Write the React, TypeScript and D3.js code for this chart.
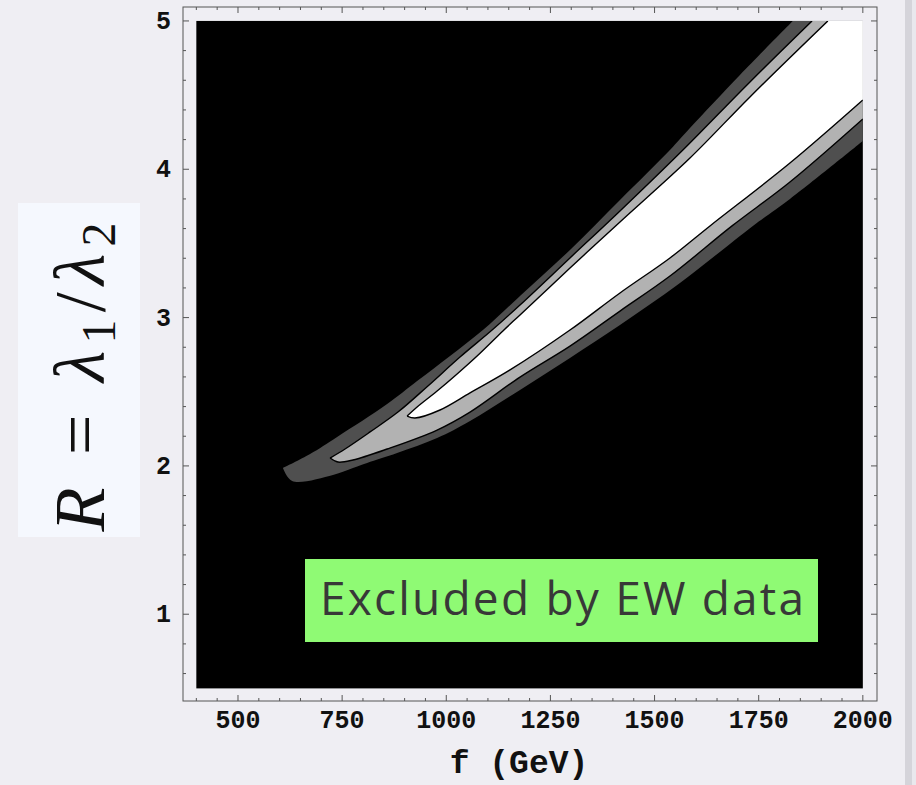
import * as d3 from "d3";

const W = 916;
const H = 785;

const fTicks = [500, 750, 1000, 1250, 1500, 1750, 2000];
const rTicks = [1, 2, 3, 4, 5];

// contour boundaries, as [f (GeV), R]
// upper edges run from the tip to the top of the plot, lower edges from the tip to the right side
const outerUpper: [number, number][] = [
  [608, 1.986], [673, 2.08], [738, 2.195], [858, 2.417], [930, 2.572], [1009, 2.741],
  [1088, 2.916], [1177, 3.146], [1297, 3.456], [1417, 3.793], [1537, 4.13],
  [1585, 4.278], [1705, 4.636], [1832, 5.0],
];
const outerLower: [number, number][] = [
  [608, 1.986], [630, 1.898], [728, 1.939], [776, 1.986], [810, 2.02], [882, 2.087],
  [978, 2.188], [1057, 2.303], [1177, 2.512], [1297, 2.728], [1417, 2.95],
  [1561, 3.233], [1736, 3.618], [1825, 3.8], [2000, 4.191],
];
const midUpper: [number, number][] = [
  [721, 2.053], [757, 2.114], [817, 2.229], [884, 2.363], [956, 2.539], [1033, 2.734],
  [1110, 2.916], [1177, 3.085], [1297, 3.402], [1417, 3.719], [1568, 4.13],
  [1729, 4.589], [1878, 5.0],
];
const midLower: [number, number][] = [
  [721, 2.053], [740, 2.026], [776, 2.04], [858, 2.114], [978, 2.242], [1057, 2.363],
  [1177, 2.599], [1297, 2.808], [1417, 3.044], [1537, 3.28], [1686, 3.618],
  [1825, 3.914], [2000, 4.339],
];
const innerUpper: [number, number][] = [
  [906, 2.336], [930, 2.397], [978, 2.505], [1026, 2.62], [1074, 2.741], [1136, 2.91],
  [1177, 3.018], [1297, 3.334], [1417, 3.645], [1585, 4.076], [1729, 4.488], [1916, 5.0],
];
const innerLower: [number, number][] = [
  [906, 2.336], [925, 2.323], [985, 2.377], [1057, 2.492], [1153, 2.647], [1297, 2.916],
  [1417, 3.166], [1537, 3.402], [1633, 3.618], [1825, 4.042], [2000, 4.467],
];

const fRange = [400, 2000];
const rRange = [0.5, 5];

const bands = [
  { upper: outerUpper, lower: outerLower, fill: "#4f4f4f", stroke: false },
  { upper: midUpper, lower: midLower, fill: "#b2b2b2", stroke: true },
  { upper: innerUpper, lower: innerLower, fill: "#ffffff", stroke: true },
];

export default function App() {
  const x = d3.scaleLinear().domain([368, 2034]).range([183, 877]);
  const y = d3.scaleLinear().domain([0.415, 5.094]).range([701, 7]);

  const line = d3
    .line<[number, number]>()
    .x((d) => x(d[0]))
    .y((d) => y(d[1]))
    .curve(d3.curveCatmullRom.alpha(0.5));

  const x0 = x(fRange[0]);
  const x1 = x(fRange[1]);
  const y0 = y(rRange[1]);
  const y1 = y(rRange[0]);

  const xMinor = d3.range(400, 2001, 50);
  const yMinor = d3.range(3, 26).map((i) => i / 5);

  const mono = "'Liberation Mono', 'Courier New', monospace";

  // closed band outline: upper edge, past the top-right corner, back along the lower edge
  const bandPath = (upper: [number, number][], lower: [number, number][]) => {
    const cx = x(fRange[1] + 50);
    const cy = y(rRange[1] + 0.2);
    const back = (line(lower.slice().reverse()) || "").replace(/^M/, "L");
    return `${line(upper)}L${cx},${cy}${back}Z`;
  };

  return (
    <svg
      width={W}
      height={H}
      style={{ position: "absolute", left: 0, top: 0, background: "#efeef3" }}
    >
      <rect x={0} y={0} width={W} height={H} fill="#efeef3" />
      <rect x={905} y={0} width={7} height={H} fill="#d5d4da" />
      <rect x={912} y={0} width={4} height={H} fill="#e9e8ed" />

      <defs>
        <clipPath id="plotClip">
          <rect x={x0} y={y0} width={x1 - x0} height={y1 - y0} />
        </clipPath>
      </defs>

      {/* excluded region */}
      <rect x={x0} y={y0} width={x1 - x0} height={y1 - y0} fill="#000" />

      <g clipPath="url(#plotClip)">
        {bands.map((b, i) => (
          <path key={"f" + i} d={bandPath(b.upper, b.lower)} fill={b.fill} />
        ))}
        {bands
          .filter((b) => b.stroke)
          .map((b, i) => (
            <g key={"s" + i} fill="none" stroke="#000" strokeWidth={1.4} strokeLinejoin="round">
              <path d={line(b.upper) || ""} />
              <path d={line(b.lower) || ""} />
            </g>
          ))}
      </g>

      {/* frame */}
      <rect x={183} y={7} width={694} height={694} fill="none" stroke="#555" strokeWidth={1} />

      <g stroke="#555" strokeWidth={1}>
        {xMinor.map((f) => {
          const major = f % 250 === 0;
          const len = major ? 6 : 3;
          const px = x(f);
          return (
            <g key={"xt" + f}>
              <line x1={px} x2={px} y1={701} y2={701 - len} />
              <line x1={px} x2={px} y1={7} y2={7 + len} />
            </g>
          );
        })}
        {yMinor.map((r) => {
          const major = Math.abs(r - Math.round(r)) < 1e-6;
          const len = major ? 6 : 3;
          const py = y(r);
          return (
            <g key={"yt" + r}>
              <line x1={183} x2={183 + len} y1={py} y2={py} />
              <line x1={877} x2={877 - len} y1={py} y2={py} />
            </g>
          );
        })}
      </g>

      <g fontFamily={mono} fontWeight="bold" fontSize={25} fill="#111">
        {fTicks.map((f) => (
          <text key={"xl" + f} x={x(f)} y={728} textAnchor="middle">
            {f}
          </text>
        ))}
        {rTicks.map((r) => (
          <text key={"yl" + r} x={171} y={y(r) + 8} textAnchor="end">
            {r}
          </text>
        ))}
      </g>

      <text
        x={519}
        y={773}
        textAnchor="middle"
        fontFamily={mono}
        fontWeight="bold"
        fontSize={33}
        fill="#111"
        style={{ whiteSpace: "pre" }}
      >
        f (GeV)
      </text>

      {/* y-axis label */}
      <rect x={18} y={203} width={122} height={334} fill="#f5f8fe" />
      <text
        transform="translate(104,377) rotate(-90)"
        textAnchor="middle"
        fontFamily="'Liberation Serif', 'DejaVu Serif', serif"
        fontSize={72}
        fill="#111"
        textLength={309}
        lengthAdjust="spacing"
        style={{ whiteSpace: "pre" }}
      >
        <tspan fontStyle="italic">R</tspan>
        <tspan> = </tspan>
        <tspan fontStyle="italic">λ</tspan>
        <tspan fontSize={48} dy={11}>1</tspan>
        <tspan dy={-11}>/</tspan>
        <tspan fontStyle="italic">λ</tspan>
        <tspan fontSize={48} dy={11}>2</tspan>
      </text>

      {/* annotation */}
      <rect x={305} y={559} width={513} height={83} fill="#8ffa74" />
      <text
        x={320}
        y={615}
        fontFamily="'Open Sans', Lato, sans-serif"
        fontSize={46}
        fill="#383838"
        textLength={484}
        lengthAdjust="spacing"
      >
        Excluded by EW data
      </text>
    </svg>
  );
}
